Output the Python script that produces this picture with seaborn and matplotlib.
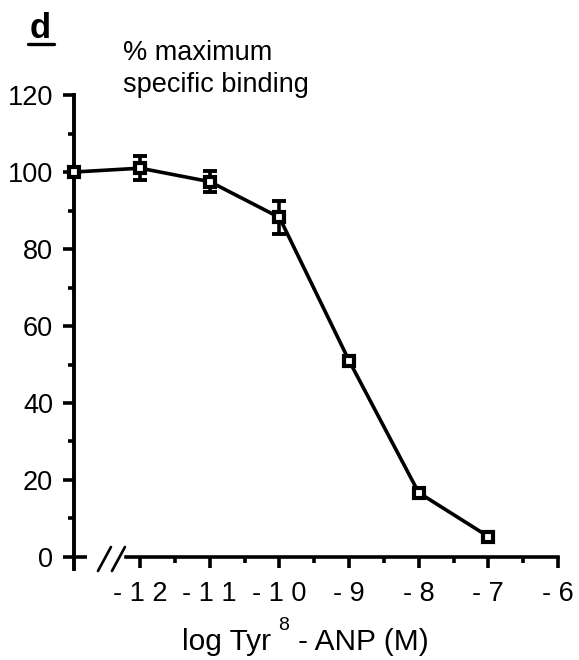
import numpy as np
import pandas as pd
import matplotlib
matplotlib.use("Agg")
import matplotlib.pyplot as plt
import seaborn as sns
from matplotlib.lines import Line2D

# Tyr8-ANP displacement of specific binding (% of maximum), mean +/- SEM
log_conc = [-12, -11, -10, -9, -8, -7]
binding = [101.0, 97.5, 88.2, 51.0, 16.7, 5.3]
sem = [3.1, 2.8, 4.4, 0.0, 0.0, 0.0]
control_binding = 100.0          # no competitor, drawn at the axis break

x_ticks = [-12, -11, -10, -9, -8, -7, -6]
x_ticklabels = ["- 1 2", "- 1 1", "- 1 0", "- 9", "- 8", "- 7", "- 6"]
y_ticks = [0, 20, 40, 60, 80, 100, 120]

# layout of the broken x axis
X_LEFT = -12.95     # y axis sits here; the control point is drawn on it
AXIS_START = -12.20 # continuous part of the x axis begins after the break

sns.set_style("ticks")
plt.rcParams.update({
    "font.family": ["Liberation Sans", "DejaVu Sans"],
    "text.color": "black",
    "axes.labelcolor": "black",
    "axes.edgecolor": "black",
    "xtick.color": "black",
    "ytick.color": "black",
})

fig = plt.figure(figsize=(5.79, 6.60), dpi=100)
ax = fig.add_axes([0.1278, 0.1386, 0.8359, 0.7174])

df = pd.DataFrame({
    "x": [X_LEFT] + log_conc,
    "y": [control_binding] + binding,
})

LW = 2.6
# error bars (only where the SEM exceeds the symbol)
ex = [x for x, s in zip(log_conc, sem) if s > 0]
ey = [y for y, s in zip(binding, sem) if s > 0]
es = [s for s in sem if s > 0]
ax.errorbar(ex, ey, yerr=es, fmt="none", ecolor="black", elinewidth=LW,
            capsize=5, capthick=2.8, zorder=3)

sns.lineplot(data=df, x="x", y="y", ax=ax, color="black", linewidth=LW,
             marker="s", markersize=6.6, markerfacecolor="white",
             markeredgecolor="black", markeredgewidth=3.0, zorder=4)
for line in ax.lines:
    line.set_clip_on(False)

ax.set_xlim(X_LEFT, -6)
ax.set_ylim(-3, 120)

# spines
for side in ("top", "right"):
    ax.spines[side].set_visible(False)
ax.spines["left"].set_linewidth(2.8)
ax.spines["left"].set_bounds(-3, 120)
ax.spines["bottom"].set_linewidth(LW)
ax.spines["bottom"].set_position(("data", 0))
ax.spines["bottom"].set_bounds(AXIS_START, -6)
for sp in ax.spines.values():
    sp.set_capstyle("projecting")

# short stub of the x axis at the origin and the // break mark
ax.add_line(Line2D([X_LEFT, -12.76], [0, 0], color="black", lw=LW,
                   clip_on=False, solid_capstyle="butt"))
for x0, x1 in ((-12.606, -12.419), (-12.405, -12.218)):
    ax.add_line(Line2D([x0, x1], [-3.64, 2.6], color="black", lw=1.9,
                       clip_on=False))

# ticks
ax.set_xticks(x_ticks)
ax.set_xticklabels(x_ticklabels)
ax.set_xticks(np.arange(-11.5, -6.0, 1.0), minor=True)
ax.set_yticks(y_ticks)
ax.set_yticklabels([str(v) for v in y_ticks])
ax.set_yticks(np.arange(10, 120, 20), minor=True)
ax.tick_params(axis="both", which="major", direction="out", length=8,
               width=LW, labelsize=19.5)
ax.tick_params(axis="both", which="minor", direction="out", length=4.5,
               width=LW)
ax.tick_params(axis="x", which="major", pad=9)
ax.tick_params(axis="y", which="major", pad=7)
ax.set_xlabel("")
ax.set_ylabel("")

# axis titles
fig.text(123 / 579, 1 - 40 / 660, "% maximum\nspecific binding",
         fontsize=19.5, va="top", ha="left", linespacing=1.3)

xl_base = 1 - 650 / 660
fig.text(182 / 579, xl_base, "log Tyr", fontsize=21.5, va="baseline",
         ha="left")
fig.text(278 / 579, 1 - 630 / 660, "8", fontsize=14, va="baseline",
         ha="left")
fig.text(298 / 579, xl_base, "- ANP (M)", fontsize=21.5, va="baseline",
         ha="left")

# panel letter
fig.text(30 / 579, 1 - 38 / 660, "d", fontsize=25, fontweight="bold",
         va="baseline", ha="left")
fig.add_artist(Line2D([28 / 579, 54 / 579], [1 - 43.5 / 660, 1 - 43.5 / 660],
                      color="black", lw=2.4, transform=fig.transFigure))

fig.savefig("out.png", dpi=100)
